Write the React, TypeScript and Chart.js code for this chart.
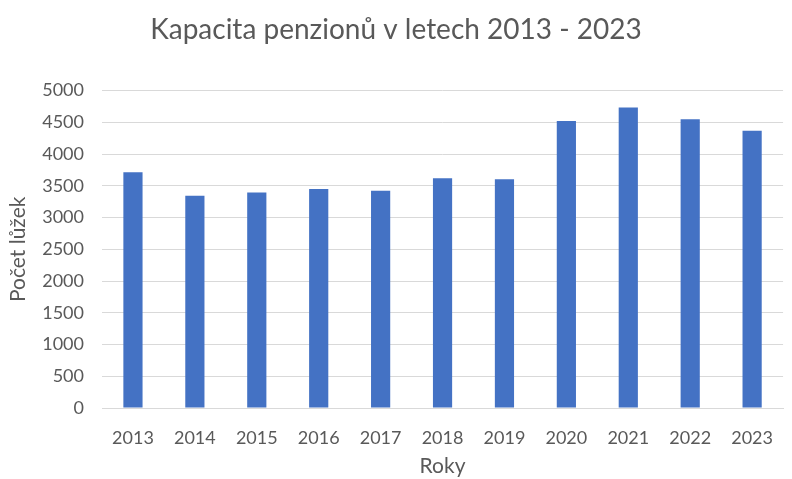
import React, { useEffect, useRef } from "react";
import { Chart, registerables } from "chart.js";

Chart.register(...registerables);

const years = ["2013", "2014", "2015", "2016", "2017", "2018", "2019", "2020", "2021", "2022", "2023"];
const beds = [3715, 3344, 3396, 3448, 3423, 3621, 3605, 4523, 4733, 4549, 4366];

const titleText = "Kapacita penzionů v letech 2013 - 2023";
const xTitle = "Roky";
const yTitle = "Počet lůžek";

const FONT = "Lato, 'Open Sans', sans-serif";
const TEXT = "#595959";

export default function App() {
  const ref = useRef<HTMLCanvasElement | null>(null);
  useEffect(() => {
    document.body.style.margin = "0";
    const ctx = ref.current!;
    const chart = new Chart(ctx, {
      type: "bar",
      data: {
        labels: years,
        datasets: [
          {
            label: yTitle,
            data: beds,
            backgroundColor: "#4472C4",
            borderWidth: 0,
            barPercentage: 1,
            categoryPercentage: 0.31,
          },
        ],
      },
      options: {
        animation: false,
        responsive: false,
        maintainAspectRatio: false,
        layout: { padding: { left: 0, right: 0, top: 0, bottom: 0 } },
        plugins: {
          legend: { display: false },
          tooltip: { enabled: false },
          title: {
            display: true,
            text: titleText,
            color: TEXT,
            font: { family: FONT, size: 28, weight: "normal" },
            padding: { top: 13, bottom: 44 },
          },
        },
        scales: {
          x: {
            grid: { display: false, drawTicks: false },
            border: { display: true, color: "#d9d9d9", width: 1 },
            ticks: { color: TEXT, font: { family: FONT, size: 18 }, padding: 19 },
            title: {
              display: true,
              text: xTitle,
              color: TEXT,
              font: { family: FONT, size: 21 },
              padding: { top: 6, bottom: 0 },
            },
            afterFit: (s: any) => {
              s.height = 71;
            },
          },
          y: {
            min: 0,
            max: 5000,
            ticks: {
              stepSize: 500,
              color: TEXT,
              font: { family: FONT, size: 18 },
              padding: 18,
              callback: (v: any) => String(v),
            },
            grid: { color: "#d9d9d9", lineWidth: 1, drawTicks: false },
            border: { display: false },
            title: {
              display: true,
              text: yTitle,
              color: TEXT,
              font: { family: FONT, size: 21 },
              padding: { top: 6, bottom: 0 },
            },
            afterFit: (s: any) => {
              s.width = 102;
            },
          },
        },
      },
    });
    return () => chart.destroy();
  }, []);
  return (
    <div style={{ width: 792, height: 479 }}>
      <canvas ref={ref} width={792} height={479} />
    </div>
  );
}
